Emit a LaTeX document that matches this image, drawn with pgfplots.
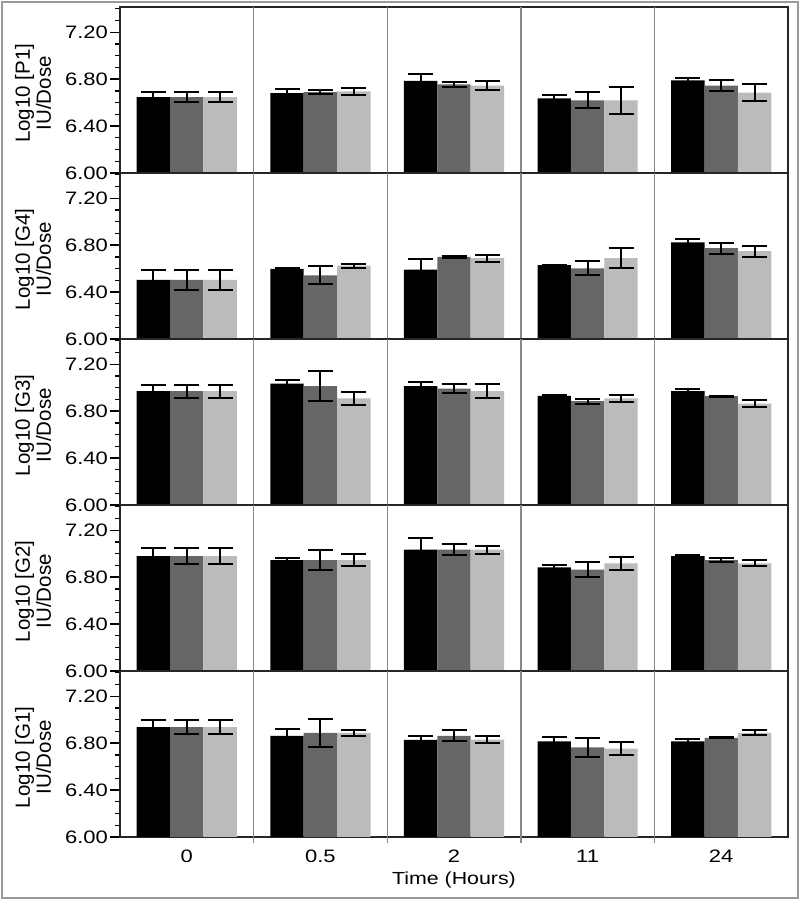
\documentclass[border=0pt]{standalone}
\usepackage{fontspec}
\setmainfont{Liberation Sans}[FakeStretch=1.22]
\newfontfamily\ylabfamily{Liberation Sans}
\usepackage{pgfplots}
\usepackage{pgfplotstable}
\pgfplotsset{compat=1.18}
\definecolor{barA}{HTML}{000000}
\definecolor{barB}{HTML}{666666}
\definecolor{barC}{HTML}{BBBBBB}
\definecolor{sep}{HTML}{888888}
\newcommand{\tickfont}{\fontsize{18}{21}\selectfont}
\newcommand{\labfont}{\fontsize{17.5}{20.5}\selectfont}
\newcommand{\ylabfont}{\ylabfamily\fontsize{20.5}{21}\selectfont}

% x a ea b eb c ec
\pgfplotstableread{
x a ea b eb c ec
0 6.647 0.043 6.647 0.043 6.647 0.043
1 6.681 0.037 6.690 0.020 6.695 0.033
2 6.785 0.060 6.756 0.019 6.744 0.036
3 6.635 0.026 6.620 0.070 6.620 0.116
4 6.790 0.017 6.744 0.045 6.684 0.072
}\datPone
\pgfplotstableread{
x a ea b eb c ec
0 6.503 0.083 6.503 0.083 6.503 0.083
1 6.597 0.008 6.543 0.077 6.626 0.017
2 6.591 0.090 6.700 0.011 6.689 0.031
3 6.629 0.005 6.603 0.059 6.689 0.083
4 6.823 0.026 6.774 0.046 6.749 0.046
}\datGfour
\pgfplotstableread{
x a ea b eb c ec
0 6.971 0.055 6.971 0.055 6.971 0.055
1 7.034 0.034 7.014 0.130 6.908 0.052
2 7.014 0.037 6.991 0.037 6.971 0.059
3 6.931 0.004 6.885 0.022 6.908 0.029
4 6.971 0.017 6.928 0.004 6.865 0.032
}\datGthree
\pgfplotstableread{
x a ea b eb c ec
0 6.980 0.066 6.980 0.066 6.980 0.066
1 6.946 0.020 6.946 0.085 6.946 0.054
2 7.034 0.097 7.034 0.046 7.034 0.034
3 6.883 0.023 6.865 0.067 6.917 0.056
4 6.980 0.005 6.946 0.013 6.917 0.026
}\datGtwo
\pgfplotstableread{
x a ea b eb c ec
0 6.937 0.063 6.937 0.063 6.937 0.063
1 6.862 0.060 6.888 0.120 6.888 0.023
2 6.828 0.032 6.862 0.046 6.830 0.033
3 6.816 0.034 6.764 0.078 6.753 0.057
4 6.816 0.023 6.845 0.005 6.888 0.022
}\datGone

\pgfplotsset{
  geom/.style={
    scale only axis, width=668pt, height=166pt,
    xmin=-0.5, xmax=4.5, ymin=6, ymax=7.415,
  },
  panel/.style={
    geom,
    ybar=0pt, bar width=33.4pt,
    axis line style={black!85, line width=1.4pt},
    ytick={6,6.4,6.8,7.2},
    yticklabels={6.00,6.40,6.80,7.20},
    minor ytick={6.1,6.2,6.3,6.5,6.6,6.7,6.9,7.0,7.1,7.3,7.4},
    ytick pos=left, tick align=outside,
    major tick length=10pt, minor tick length=5pt,
    tick style={black, line width=1.3pt},
    xtick=\empty, xtick pos=bottom,
    extra x ticks={0.5,1.5,2.5,3.5}, extra x tick labels={},
    extra x tick style={xmajorgrids=true, major grid style={sep, line width=1.4pt},
       major tick length=6pt, tick style={sep, line width=1.4pt}},
    tick label style={font=\tickfont},
    yticklabel style={inner sep=2pt},
    ylabel style={font=\ylabfont, at={(axis description cs:-0.103,0.48)}, anchor=south, align=center, inner sep=0pt},
    error bars/y dir=both, error bars/y explicit,
    error bars/error bar style={black, line width=2pt},
    error bars/error mark options={rotate=90, black, line width=2pt, mark size=12.5pt},
  },
  bA/.style={fill=barA, draw=none},
  bB/.style={fill=barB, draw=none},
  bC/.style={fill=barC, draw=none},
}

\newcommand{\panelplots}[1]{%
  \addplot[bA] table[x=x, y=a, y error=ea] {#1};
  \addplot[bB] table[x=x, y=b, y error=eb] {#1};
  \addplot[bC] table[x=x, y=c, y error=ec] {#1};
}

\begin{document}
\begin{tikzpicture}
\begin{axis}[panel, at={(0pt,664pt)}, ylabel={\ylabfont Log10 [P1]\\\ylabfont IU/Dose}]
\panelplots{\datPone}
\end{axis}
\begin{axis}[panel, at={(0pt,498pt)}, ylabel={\ylabfont Log10 [G4]\\\ylabfont IU/Dose}]
\panelplots{\datGfour}
\end{axis}
\begin{axis}[panel, at={(0pt,332pt)}, ylabel={\ylabfont Log10 [G3]\\\ylabfont IU/Dose}]
\panelplots{\datGthree}
\end{axis}
\begin{axis}[panel, at={(0pt,166pt)}, ylabel={\ylabfont Log10 [G2]\\\ylabfont IU/Dose}]
\panelplots{\datGtwo}
\end{axis}
\begin{axis}[panel, at={(0pt,0pt)}, ylabel={\ylabfont Log10 [G1]\\\ylabfont IU/Dose}]
\panelplots{\datGone}
\end{axis}
% overlay axis carrying only the category labels and the x label
\begin{axis}[geom, at={(0pt,0pt)},
  hide y axis, axis x line*=bottom, x axis line style={draw=none},
  xtick={0,1,2,3,4}, xticklabels={0,0.5,2,11,24},
  major tick length=0pt, tick style={draw=none},
  tick label style={font=\tickfont},
  xticklabel style={anchor=base, yshift=-25pt},
  xlabel={Time (Hours)},
  xlabel style={font=\labfont, at={(axis description cs:0.5,0)}, anchor=base, yshift=-48pt}]
\end{axis}
\draw[black!40, line width=1.5pt] (-118pt,-61pt) rectangle (678pt,835pt);
\path (-120pt,-63pt) rectangle (680pt,837pt);
\end{tikzpicture}
\end{document}
